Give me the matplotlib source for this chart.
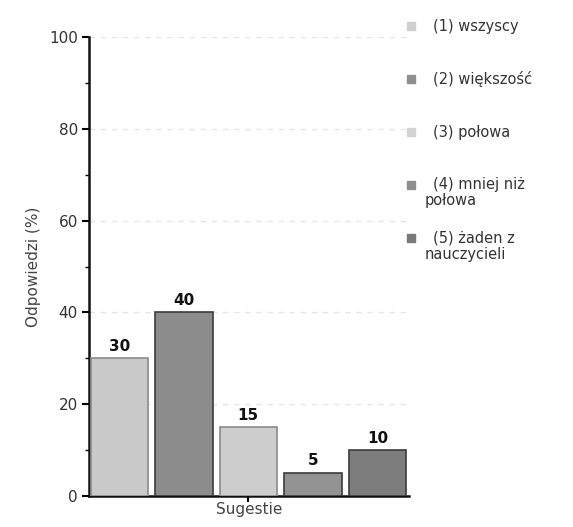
import matplotlib
matplotlib.use("Agg")
import matplotlib.pyplot as plt
import numpy as np

categories = ["(1) wszyscy", "(2) większość", "(3) połowa", "(4) mniej niż\npołowa", "(5) żaden z\nnauczycieli"]
values = [30, 40, 15, 5, 10]
colors = ["#c9c9c9", "#8c8c8c", "#cdcdcd", "#939393", "#7d7d7d"]
edge_colors = ["#8a8a8a", "#3c3c3c", "#8a8a8a", "#3c3c3c", "#3c3c3c"]
yticks = [0, 20, 40, 60, 80, 100]

fig = plt.figure(figsize=(5.73, 5.27), dpi=100)
W, H = 573, 527
ax = fig.add_axes([89 / W, 1 - 496 / H, (409 - 89) / W, (496 - 37) / H])

x = np.arange(len(values))
ax.bar(x, values, width=0.89, color=colors, edgecolor=edge_colors, linewidth=1.2, zorder=3)
for xi, v in zip(x, values):
    ax.text(xi, v + 1.0, str(v), ha="center", va="bottom", fontsize=11, fontweight="bold", color="#111111")

ax.set_xlim(-0.47, 4.49)
ax.set_ylim(0, 100)
ax.set_yticks(yticks)
ax.set_yticks(range(10, 100, 20), minor=True)
for y in yticks[1:]:
    ax.axhline(y, color="#e6e6e6", linestyle=(0, (4, 4)), linewidth=1, zorder=1)
ax.set_xticks([2])
ax.set_xticklabels([""])
ax.tick_params(axis="y", which="major", length=5, width=1.5, labelsize=11, labelcolor="#333333", pad=3)
ax.tick_params(axis="y", which="minor", length=3, width=1)
ax.tick_params(axis="x", length=4, width=1.5, pad=0)
for s in ["top", "right"]:
    ax.spines[s].set_visible(False)
for s in ["left", "bottom"]:
    ax.spines[s].set_linewidth(1.8)
    ax.spines[s].set_color("#111111")
ax.set_ylabel("Odpowiedzi (%)", fontsize=11, color="#444444", labelpad=6)
ax.set_xlabel("Sugestie", fontsize=11, color="#444444", labelpad=0)

legend_colors = ["#cfcfcf", "#8f8f8f", "#d3d3d3", "#8f8f8f", "#7a7a7a"]
for i, (lab, c) in enumerate(zip(categories, legend_colors)):
    yc = 26 + 53 * i
    fig.patches.append(plt.Rectangle((407 / W, 1 - (yc + 4) / H), 8 / W, 8 / H,
                                     transform=fig.transFigure, color=c, figure=fig))
    lines = lab.split("\n")
    fig.text(433 / W, 1 - yc / H, lines[0], fontsize=10.5, color="#333333", va="center", ha="left")
    if len(lines) > 1:
        fig.text(425 / W, 1 - (yc + 16) / H, lines[1], fontsize=10.5, color="#333333", va="center", ha="left")

fig.savefig("out.png", dpi=100)
